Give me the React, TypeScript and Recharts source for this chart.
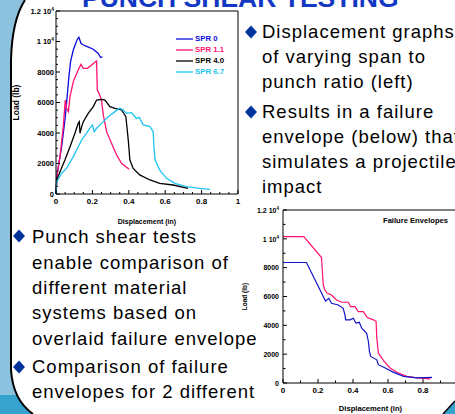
import React from 'react';
import { LineChart, Line, XAxis, YAxis, Legend } from 'recharts';

const FONT = '"Liberation Sans", Arial, Helvetica, sans-serif';

// left plot: load vs displacement, one curve per span-to-punch ratio
const spr0Disp = [0, 0.004, 0.031, 0.049, 0.058, 0.071, 0.08, 0.095, 0.117, 0.126, 0.137, 0.15, 0.172, 0.205, 0.232, 0.245, 0.256];
const spr0Load = [0, 1140, 3100, 4850, 5950, 7700, 8680, 9440, 10140, 10270, 9880, 9770, 9660, 9490, 9220, 8950, 9000];

const spr11Disp = [0, 0.007, 0.022, 0.04, 0.051, 0.058, 0.068, 0.077, 0.095, 0.122, 0.137, 0.15, 0.172, 0.196, 0.21, 0.223, 0.227, 0.236, 0.25, 0.26, 0.278, 0.305, 0.333, 0.36, 0.402];
const spr11Load = [0, 1350, 2450, 4410, 6160, 5620, 5400, 6380, 7370, 8130, 8500, 8240, 8240, 8460, 8610, 8720, 6820, 6600, 6160, 5180, 4090, 3320, 2560, 2010, 1620];

const spr40Disp = [0, 0.004, 0.022, 0.049, 0.077, 0.104, 0.122, 0.128, 0.132, 0.141, 0.15, 0.177, 0.205, 0.223, 0.25, 0.269, 0.296, 0.324, 0.36, 0.384, 0.397, 0.406, 0.424, 0.46, 0.516, 0.57, 0.643, 0.726];
const spr40Load = [0, 920, 1460, 2230, 3100, 3980, 4630, 4740, 3980, 4420, 4740, 5290, 5730, 6160, 6210, 6160, 5730, 5620, 5510, 5070, 3540, 2230, 1680, 1250, 920, 700, 590, 370];

const spr67Disp = [0, 0.004, 0.031, 0.058, 0.095, 0.141, 0.186, 0.2, 0.21, 0.223, 0.25, 0.287, 0.324, 0.351, 0.369, 0.388, 0.415, 0.442, 0.457, 0.479, 0.516, 0.534, 0.539, 0.545, 0.57, 0.607, 0.653, 0.717, 0.79, 0.845];
const spr67Load = [0, 800, 1360, 1680, 2450, 3540, 4310, 4530, 4090, 4310, 4630, 5070, 5400, 5620, 5510, 5290, 5330, 4960, 5030, 4530, 4420, 4090, 2890, 2230, 1570, 1030, 700, 480, 370, 300];

// right plot: failure envelopes
const envAPDisp = [0, 0.119, 0.22, 0.23, 0.239, 0.253, 0.277, 0.306, 0.335, 0.373, 0.387, 0.411, 0.43, 0.459, 0.482, 0.517, 0.532, 0.536, 0.545, 0.565, 0.578, 0.612, 0.65, 0.708, 0.766, 0.842];
const envAPLoad = [10160, 10160, 8700, 6800, 6450, 6220, 6100, 5760, 5600, 5600, 5300, 5300, 4950, 4950, 4540, 4380, 4260, 3110, 2070, 1730, 1500, 1040, 740, 460, 350, 280];

const envBDisp = [0, 0.134, 0.243, 0.262, 0.277, 0.316, 0.344, 0.354, 0.358, 0.383, 0.402, 0.417, 0.436, 0.45, 0.478, 0.488, 0.494, 0.501, 0.536, 0.545, 0.584, 0.632, 0.689, 0.766, 0.852];
const envBLoad = [8360, 8360, 5690, 5870, 5530, 5410, 5180, 4720, 4380, 4380, 4490, 4150, 4210, 3800, 3450, 2880, 2190, 1840, 1610, 1270, 1040, 740, 460, 350, 390];

const dispMajor = [0, 0.2, 0.4, 0.6, 0.8, 1];
const loadMajor = [0, 2000, 4000, 6000, 8000, 10000, 12000];

const steps = (end: number, step: number) =>
  Array.from({ length: Math.round(end / step) + 1 }, (_, i) => +(i * step).toFixed(4));

const pts = (xs: number[], ys: number[]) => xs.map((x, i) => ({ x, y: ys[i] }));

const AXIS = { stroke: '#000', strokeWidth: 1 };

function loadText(v: number) {
  if (v === 12000) return ['1.2 10', '4'];
  if (v === 10000) return ['1 10', '4'];
  return [String(v), ''];
}

function FrameTick(props: any) {
  const { x, y, payload, side, majors, majorLen, minorLen, fontSize, gap } = props;
  const v = payload.value;
  const big = majors.some((m: number) => Math.abs(m - v) < 1e-6);
  const len = big ? majorLen : minorLen;
  let line;
  if (side === 'bottom') line = <line x1={x} y1={y} x2={x} y2={y - len} stroke="#000" />;
  else if (side === 'top') line = <line x1={x} y1={y} x2={x} y2={y + len} stroke="#000" />;
  else if (side === 'left') line = <line x1={x} y1={y} x2={x + len} y2={y} stroke="#000" />;
  else line = <line x1={x} y1={y} x2={x - len} y2={y} stroke="#000" />;
  let label = null;
  if (big && side === 'bottom') {
    label = (
      <text x={x} y={y + gap} textAnchor="middle" fontSize={fontSize} fontWeight="bold" fontFamily={FONT} fill="#000">
        {String(v)}
      </text>
    );
  }
  if (big && side === 'left') {
    const [base, sup] = loadText(v);
    label = (
      <text x={x - gap} y={y + 2.7} textAnchor="end" fontSize={fontSize} fontWeight="bold" fontFamily={FONT} fill="#000">
        {base}
        {sup && <tspan dy={-3} fontSize={fontSize * 0.65}>{sup}</tspan>}
      </text>
    );
  }
  return (
    <g>
      {line}
      {label}
    </g>
  );
}

function SprLegend({ payload }: any) {
  return (
    <div>
      {(payload || []).map((e: any) => (
        <div key={e.value} style={{ display: 'flex', alignItems: 'center', height: 11 }}>
          <svg width={19} height={4} style={{ display: 'block' }}>
            <line x1={0} y1={2} x2={17} y2={2} stroke={e.color} strokeWidth={1.3} />
          </svg>
          <span style={{ color: e.color, fontFamily: FONT, fontWeight: 'bold', fontSize: 7.8, lineHeight: '11px' }}>
            {e.value}
          </span>
        </div>
      ))}
    </div>
  );
}

const leftX = steps(1, 0.05);
const leftY = steps(12000, 500);
const rightX = steps(1, 0.1);
const rightY = steps(12000, 1000);

const titleStyle = (size: number) => ({ fontSize: size, fontWeight: 700, fontFamily: FONT, fill: '#000' });

function SprChart() {
  return (
    <LineChart width={250} height={228} margin={{ top: 6, right: 8, bottom: 0, left: 6 }}>
      <XAxis
        dataKey="x"
        type="number"
        domain={[0, 1]}
        ticks={leftX}
        interval={0}
        height={34}
        tickSize={0}
        tickMargin={0}
        tickLine={false}
        axisLine={AXIS}
        tick={<FrameTick side="bottom" majors={dispMajor} majorLen={4} minorLen={2} fontSize={8} gap={10} />}
        label={{ value: 'Displacement (in)', position: 'insideBottom', offset: 4, style: { ...titleStyle(7), textAnchor: 'middle' } }}
      />
      <XAxis
        xAxisId="top"
        orientation="top"
        type="number"
        domain={[0, 1]}
        ticks={leftX}
        interval={0}
        height={5}
        tickSize={0}
        tickMargin={0}
        tickLine={false}
        axisLine={AXIS}
        tick={<FrameTick side="top" majors={dispMajor} majorLen={4} minorLen={2} />}
      />
      <YAxis
        type="number"
        domain={[0, 12000]}
        ticks={leftY}
        interval={0}
        width={50}
        tickSize={0}
        tickMargin={0}
        tickLine={false}
        axisLine={AXIS}
        tick={<FrameTick side="left" majors={loadMajor} majorLen={4} minorLen={2} fontSize={7.5} gap={2} />}
        label={{ value: 'Load (lb)', angle: -90, position: 'insideLeft', offset: 10, style: { ...titleStyle(8.5), textAnchor: 'middle' } }}
      />
      <YAxis
        yAxisId="right"
        orientation="right"
        type="number"
        domain={[0, 12000]}
        ticks={leftY}
        interval={0}
        width={4}
        tickSize={0}
        tickMargin={0}
        tickLine={false}
        axisLine={AXIS}
        tick={<FrameTick side="right" majors={loadMajor} majorLen={4} minorLen={2} />}
      />
      <Legend
        layout="vertical"
        align="center"
        verticalAlign="middle"
        content={<SprLegend />}
        wrapperStyle={{ left: 176, top: 33, width: 70, height: 44 }}
      />
      <Line data={pts(spr0Disp, spr0Load)} dataKey="y" name="SPR 0" stroke="#0A0ADC" strokeWidth={1.3} dot={false} isAnimationActive={false} />
      <Line data={pts(spr11Disp, spr11Load)} dataKey="y" name="SPR 1.1" stroke="#FF1070" strokeWidth={1.3} dot={false} isAnimationActive={false} />
      <Line data={pts(spr40Disp, spr40Load)} dataKey="y" name="SPR 4.0" stroke="#000000" strokeWidth={1.3} dot={false} isAnimationActive={false} />
      <Line data={pts(spr67Disp, spr67Load)} dataKey="y" name="SPR 6.7" stroke="#1CC4F0" strokeWidth={1.3} dot={false} isAnimationActive={false} />
    </LineChart>
  );
}

function EnvelopeChart() {
  return (
    <LineChart width={240} height={216} margin={{ top: 7, right: 8, bottom: 0, left: 3 }}>
      <XAxis
        dataKey="x"
        type="number"
        domain={[0, 1]}
        ticks={rightX}
        interval={0}
        height={31}
        tickSize={0}
        tickMargin={0}
        tickLine={false}
        axisLine={AXIS}
        tick={<FrameTick side="bottom" majors={dispMajor} majorLen={4} minorLen={2.5} fontSize={8} gap={10} />}
        label={{ value: 'Displacement (in)', position: 'insideBottom', offset: 3, style: { ...titleStyle(7.6), textAnchor: 'middle' } }}
      />
      <XAxis
        xAxisId="top"
        orientation="top"
        type="number"
        domain={[0, 1]}
        ticks={rightX}
        interval={0}
        height={5}
        tickSize={0}
        tickMargin={0}
        tickLine={false}
        axisLine={AXIS}
        tick={<FrameTick side="top" majors={dispMajor} majorLen={4} minorLen={2.5} />}
      />
      <YAxis
        type="number"
        domain={[0, 12000]}
        ticks={rightY}
        interval={0}
        width={50}
        tickSize={0}
        tickMargin={0}
        tickLine={false}
        axisLine={AXIS}
        tick={<FrameTick side="left" majors={loadMajor} majorLen={4} minorLen={2.5} fontSize={7} gap={4} />}
        label={{ value: 'Load (lb)', angle: -90, position: 'insideLeft', offset: 12, style: { ...titleStyle(6.5), textAnchor: 'middle' } }}
      />
      <YAxis
        yAxisId="right"
        orientation="right"
        type="number"
        domain={[0, 12000]}
        ticks={rightY}
        interval={0}
        width={4}
        tickSize={0}
        tickMargin={0}
        tickLine={false}
        axisLine={AXIS}
        tick={<FrameTick side="right" majors={loadMajor} majorLen={4} minorLen={2.5} />}
      />
      <Line data={pts(envAPDisp, envAPLoad)} dataKey="y" name="Envelope A" stroke="#FF1070" strokeWidth={1.2} dot={false} isAnimationActive={false} />
      <Line data={pts(envBDisp, envBLoad)} dataKey="y" name="Envelope B" stroke="#1414C8" strokeWidth={1.2} dot={false} isAnimationActive={false} />
    </LineChart>
  );
}

const rightBullets = [
  ['Displacement graphs', 'of varying span to', 'punch ratio (left)'],
  ['Results in a failure', 'envelope (below) that', 'simulates a projectile', 'impact'],
];
const leftBullets = [
  ['Punch shear tests', 'enable comparison of', 'different material', 'systems based on', 'overlaid failure envelope'],
  ['Comparison of failure', 'envelopes for 2 different'],
];

function Diamond({ cx, cy }: { cx: number; cy: number }) {
  return <polygon points={`${cx},${cy - 6.5} ${cx + 6},${cy} ${cx},${cy + 6.5} ${cx - 6},${cy}`} fill="#00339A" />;
}

function BulletLines({ x, baselines, lines }: { x: number; baselines: number[]; lines: string[] }) {
  return (
    <>
      {lines.map((t, i) => (
        <text key={t} x={x} y={baselines[i]} fontSize={18.5} letterSpacing={1} fontFamily={FONT} fill="#000">
          {t}
        </text>
      ))}
    </>
  );
}

function Slide() {
  return (
    <svg width={455} height={414} style={{ position: 'absolute', left: 0, top: 0 }}>
      <rect x={0} y={0} width={455} height={414} fill="#8CC2DE" />
      <rect x={0} y={395} width={455} height={19} fill="#36A2CE" />
      <path d="M25 0 L455 0 L455 414 L33 414 Q13 400 11 370 L11 60 Q12 20 25 0 Z" fill="#fff" />
      <path d="M25 0 Q12 20 11 60 L11 370 Q13 400 33 414" fill="none" stroke="#000" strokeWidth={2} />
      <path d="M455 401 L455 414 L443 414 Z" fill="#36A2CE" />
      <line x1={443} y1={414} x2={455} y2={401} stroke="#000" strokeWidth={1.5} />
      <text x={82} y={7} fontSize={26.5} fontWeight="bold" fontFamily={FONT} fill="#1238C4">
        PUNCH SHEAR TESTING
      </text>
      <Diamond cx={251} cy={32} />
      <BulletLines x={262} baselines={[38, 63, 88]} lines={rightBullets[0]} />
      <Diamond cx={251} cy={112} />
      <BulletLines x={262} baselines={[118, 143, 168, 193]} lines={rightBullets[1]} />
      <Diamond cx={19} cy={236} />
      <BulletLines x={32} baselines={[243, 268.5, 294, 319, 344.5]} lines={leftBullets[0]} />
      <Diamond cx={19} cy={367} />
      <BulletLines x={32} baselines={[373, 398]} lines={leftBullets[1]} />
    </svg>
  );
}

export default function App() {
  return (
    <div style={{ position: 'absolute', left: 0, top: 0, width: 455, height: 414, overflow: 'hidden', background: '#fff' }}>
      <Slide />
      <div style={{ position: 'absolute', left: 0, top: 0 }}>
        <SprChart />
      </div>
      <div style={{ position: 'absolute', left: 230, top: 198 }}>
        <EnvelopeChart />
      </div>
      <div
        style={{
          position: 'absolute',
          left: 383,
          top: 216,
          fontFamily: FONT,
          fontWeight: 'bold',
          fontSize: 7.6,
          color: '#000',
          whiteSpace: 'nowrap',
        }}
      >
        Failure Envelopes
      </div>
    </div>
  );
}
